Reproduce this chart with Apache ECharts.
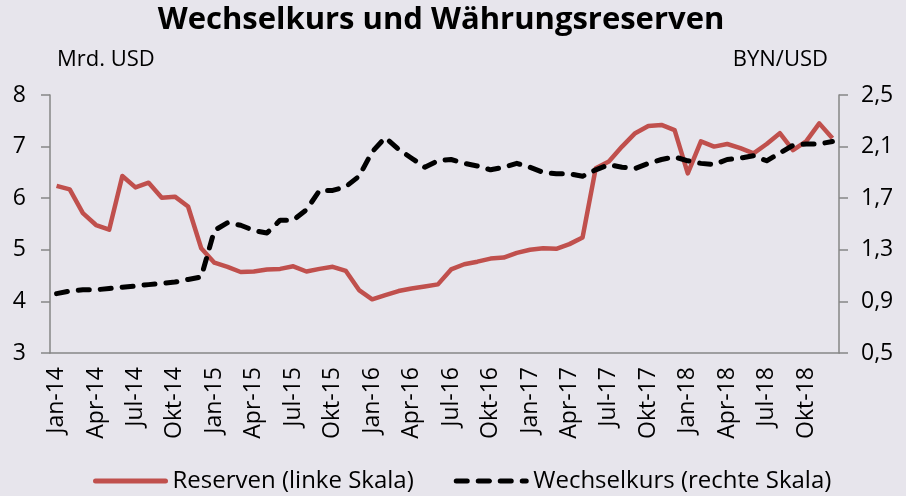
<!DOCTYPE html>
<html>
<head>
<meta charset="utf-8">
<script src="https://cdn.jsdelivr.net/npm/echarts@6/dist/echarts.min.js"></script>
<style>
  html, body { margin: 0; padding: 0; background: #e7e5ec; }
  #chart { width: 906px; height: 496px; }
</style>
</head>
<body>
<div id="chart"></div>
<script>
  // Monatsnamen und Jahre -> Kategorien Jan-14 ... Dez-18
  var monthNames = ['Jan', 'Feb', 'Mrz', 'Apr', 'Mai', 'Jun', 'Jul', 'Aug', 'Sep', 'Okt', 'Nov', 'Dez']
  var years = ['14', '15', '16', '17', '18']
  var categories = []
  years.forEach(function (y) {
    monthNames.forEach(function (m) { categories.push(m + '-' + y) })
  })

  // Währungsreserven, Mrd. USD (linke Skala)
  var reserven = [
    6.24, 6.17, 5.71, 5.48, 5.39, 6.43, 6.21, 6.30, 6.01, 6.03, 5.84, 5.03,
    4.75, 4.67, 4.57, 4.58, 4.62, 4.63, 4.68, 4.58, 4.63, 4.67, 4.59, 4.22,
    4.04, 4.12, 4.20, 4.25, 4.29, 4.33, 4.62, 4.72, 4.77, 4.83, 4.85, 4.94,
    5.00, 5.03, 5.02, 5.11, 5.24, 6.58, 6.71, 7.00, 7.26, 7.40, 7.42, 7.32,
    6.48, 7.10, 7.00, 7.05, 6.97, 6.87, 7.05, 7.26, 6.93, 7.10, 7.45, 7.16
  ]

  // Wechselkurs BYN/USD (rechte Skala)
  var wechselkurs = [
    0.96, 0.98, 0.99, 0.99, 1.00, 1.01, 1.02, 1.03, 1.04, 1.05, 1.07, 1.09,
    1.45, 1.51, 1.49, 1.45, 1.43, 1.53, 1.53, 1.61, 1.76, 1.76, 1.79, 1.87,
    2.06, 2.17, 2.08, 2.01, 1.94, 1.99, 2.00, 1.97, 1.95, 1.92, 1.94, 1.97,
    1.94, 1.90, 1.89, 1.89, 1.87, 1.92, 1.96, 1.94, 1.93, 1.97, 2.00, 2.02,
    1.99, 1.97, 1.96, 2.00, 2.01, 2.03, 1.99, 2.05, 2.11, 2.12, 2.12, 2.14
  ]

  var font = '"Open Sans", "Noto Sans", sans-serif'
  var axisGrey = '#868686'

  var chart = echarts.init(document.getElementById('chart'))
  chart.setOption({
    backgroundColor: '#e7e5ec',
    animation: false,
    textStyle: { fontFamily: font, color: '#000' },
    title: {
      text: 'Wechselkurs und Währungsreserven',
      left: 436,
      top: 0,
      textAlign: 'center',
      textStyle: { fontFamily: font, fontSize: 31, fontWeight: 'bold', color: '#000' }
    },
    graphic: [
      { type: 'text', left: 57, top: 49, style: { text: 'Mrd. USD', font: '22px ' + font, fill: '#000' } },
      { type: 'text', right: 78, top: 49, style: { text: 'BYN/USD', font: '22px ' + font, fill: '#000' } }
    ],
    legend: {
      bottom: -2,
      left: 88,
      itemWidth: 70,
      itemHeight: 2,
      itemGap: 40,
      lineStyle: { width: 5, cap: 'round' },
      textStyle: { fontFamily: font, fontSize: 24, color: '#000', padding: [0, 0, 0, 2] },
      data: ['Reserven (linke Skala)', 'Wechselkurs (rechte Skala)']
    },
    grid: { left: 50, right: 67, top: 95, bottom: 143 },
    xAxis: {
      type: 'category',
      data: categories,
      boundaryGap: true,
      axisLine: { lineStyle: { color: axisGrey, width: 1.5 } },
      axisTick: { show: false },
      axisLabel: {
        interval: 2,
        rotate: 90,
        margin: 14,
        fontSize: 23,
        color: '#000',
        fontFamily: font
      }
    },
    yAxis: [
      {
        type: 'value',
        min: 3,
        max: 8,
        interval: 1,
        splitLine: { show: false },
        axisLine: { show: true, lineStyle: { color: axisGrey, width: 1.5 } },
        axisTick: { show: true, length: 9, lineStyle: { color: axisGrey, width: 1.5 } },
        axisLabel: { fontSize: 23, color: '#000', margin: 24, fontFamily: font }
      },
      {
        type: 'value',
        min: 0.5,
        max: 2.5,
        interval: 0.4,
        splitLine: { show: false },
        axisLine: { show: true, lineStyle: { color: axisGrey, width: 1.5 } },
        axisTick: { show: true, length: 9, lineStyle: { color: axisGrey, width: 1.5 } },
        axisLabel: {
          fontSize: 23,
          color: '#000',
          margin: 22,
          fontFamily: font,
          formatter: function (v) { return v.toFixed(1).replace('.', ',') }
        }
      }
    ],
    series: [
      {
        name: 'Reserven (linke Skala)',
        type: 'line',
        yAxisIndex: 0,
        data: reserven,
        symbol: 'none',
        color: '#c0504d',
        lineStyle: { color: '#c0504d', width: 4.5, join: 'round' }
      },
      {
        name: 'Wechselkurs (rechte Skala)',
        type: 'line',
        yAxisIndex: 1,
        data: wechselkurs,
        symbol: 'none',
        color: '#000',
        lineStyle: { color: '#000', width: 5, type: [11, 11], cap: 'round', join: 'round' }
      }
    ]
  })
</script>
</body>
</html>
